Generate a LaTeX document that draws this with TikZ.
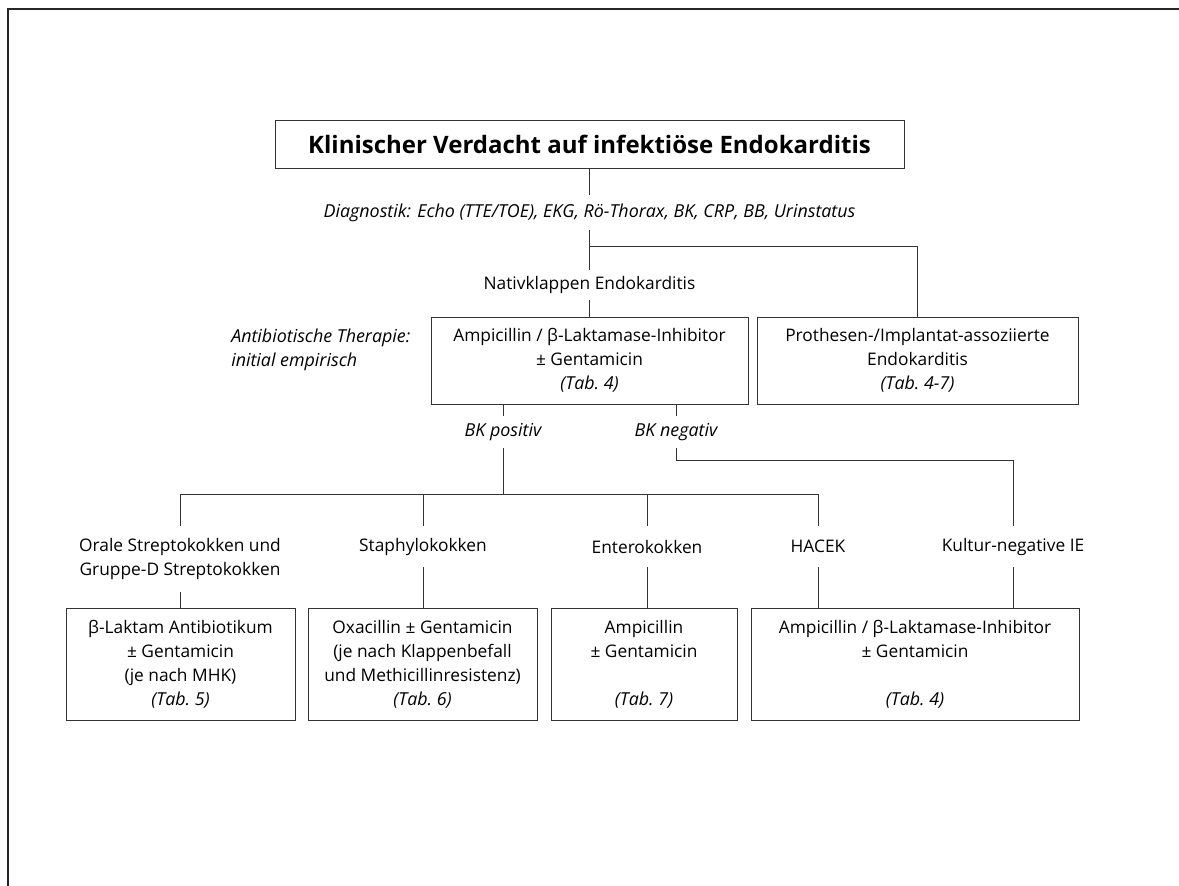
\documentclass[tikz,border=0pt]{standalone}
\usepackage{fontspec}
\setmainfont{Open Sans}
\usepackage{tikz}
\usetikzlibrary{positioning}
\newcommand{\pu}{0.75pt}
\newcommand{\txt}{\fontsize{13}{18}\selectfont}
\newcommand{\itl}{\fontsize{13.4}{18}\selectfont\itshape}
\newcommand{\ttl}{\fontsize{18}{21}\selectfont\bfseries}
\newcommand{\TabRef}[1]{{\itl(Tab.~#1)}}
\newcommand{\Gent}{± Gentamicin}
\newcommand{\BLI}{Ampicillin / β-Laktamase-Inhibitor}
\tikzset{
	kbox/.style={draw=black!80, line width=\pu, inner sep=0pt, align=center, font=\txt},
	lbl/.style={inner sep=0pt, align=center, font=\txt},
	conn/.style={draw=black!80, line width=\pu},
}

\begin{document}
\begin{tikzpicture}[x=\pu, y=-\pu]
		\useasboundingbox (0,0) rectangle (1179,886);
		% frame
		\draw[line width=2*\pu, black!85] (1179,9) -- (8,9) -- (8,886);
		\node (T) 	[kbox, font=\ttl, minimum width=629*\pu, minimum height=48*\pu] 	at (589.5,144) 		{Klinischer Verdacht auf infektiöse Endokarditis};
		\node (D) 	[lbl, font=\itl, minimum height=35*\pu] 	at (589.5,212.5) 	{Diagnostik: Echo (TTE/TOE), EKG, Rö-Thorax, BK, CRP, BB, Urinstatus};
		\node (N) 	[lbl, minimum height=30*\pu] 	at (589.5,285) 		{Nativklappen Endokarditis};
		\node (A) 	[kbox, minimum width=317*\pu, minimum height=87*\pu] 	at (589.5,360.5) 	{\BLI\\\Gent\\\TabRef{4}};
		\node (P) 	[kbox, minimum width=321*\pu, minimum height=87*\pu] 	at (917.5,360.5) 	{Prothesen-/Implantat-assoziierte\\Endokarditis\\\TabRef{4-7}};
		\node (Th) 	[lbl, font=\itl, align=left, anchor=west] 	at (231,350) 	{Antibiotische Therapie:\\initial empirisch};
		\node (Bp) 	[lbl, font=\itl, minimum height=32*\pu] 	at (503,432) 		{BK positiv};
		\node (Bn) 	[lbl, font=\itl, minimum height=32*\pu] 	at (676,432) 		{BK negativ};
		%% pathogens
		\node (S1) 	[lbl, minimum height=66*\pu] 	at (180,559) 		{Orale Streptokokken und\\Gruppe-D Streptokokken};
		\node (S2) 	[lbl, minimum height=41*\pu] 	at (423,546.5) 		{Staphylokokken};
		\node (S3) 	[lbl, minimum height=41*\pu] 	at (647,546.5) 		{Enterokokken};
		\node (S4) 	[lbl, minimum height=41*\pu] 	at (818,546.5) 		{HACEK};
		\node (S5) 	[lbl, minimum height=41*\pu] 	at (1013,546.5) 	{Kultur-negative IE};
		%% therapy boxes
		\node (R1) 	[kbox, minimum width=229*\pu, minimum height=112*\pu] 	at (180.5,664) 	{β-Laktam Antibiotikum\\\Gent\\(je nach MHK)\\\TabRef{5}};
		\node (R2) 	[kbox, minimum width=229*\pu, minimum height=112*\pu] 	at (422.5,664) 	{Oxacillin \Gent\\(je nach Klappenbefall\\und Methicillinresistenz)\\\TabRef{6}};
		\node (R3) 	[kbox, minimum width=186*\pu, minimum height=112*\pu] 	at (644,664) 	{Ampicillin\\\Gent\\[18pt]\TabRef{7}};
		\node (R4) 	[kbox, minimum width=328*\pu, minimum height=112*\pu] 	at (915,664) 	{\BLI\\\Gent\\[18pt]\TabRef{4}};
		\coordinate (split) 	at (589.5,246);
		\coordinate (hub) 		at (503,494);
		\coordinate (bend) 		at (1013,460);
		\draw[conn] 	(T) 	to (D);
		\draw[conn] 	(D) 	to (N);
		\draw[conn] 	(split) 	-| (P.north);
		\draw[conn] 	(N) 	to (A);
		\draw[conn] 	(Bp.north |- A.south) 	to (Bp.north);
		\draw[conn] 	(Bn.north |- A.south) 	to (Bn.north);
		\draw[conn] 	(Bp.south) 	to (hub);
		\draw[conn] 	(Bn.south) 	|- (bend) -- (S5.north);
		\draw[conn] 	(S1.north |- hub) 	to (S4.north |- hub);
		\foreach \n in {S1,S2,S3,S4}
			\draw[conn] 	(\n.north |- hub) 	to (\n.north);
		\foreach \n/\m in {S1/R1,S2/R2,S3/R3,S4/R4,S5/R4}
			\draw[conn] 	(\n.south) 	to (\n.south |- \m.north);
\end{tikzpicture}
\end{document}
